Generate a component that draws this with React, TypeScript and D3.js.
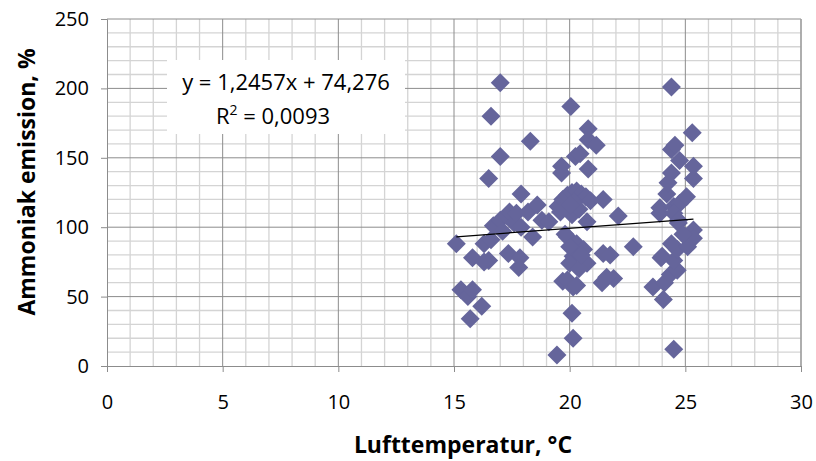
import React, { useRef, useEffect } from 'react';
import * as d3 from 'd3';

// temperature (°C) and ammonia emission (%)
const tempValues = [
  15.1, 15.3, 15.6, 15.8, 16.2, 15.7, 15.8, 16.5, 16.3, 16.3, 16.6, 16.7, 16.5, 16.6, 17.0, 17.0,
  17.0, 17.3, 17.4, 17.35, 17.85, 17.8, 17.6, 17.9, 18.3, 18.4, 18.2, 18.6, 18.8, 17.7, 17.9, 17.1,
  19.45, 20.15, 20.1, 19.7, 19.9, 20.15, 20.3, 21.4, 21.9, 21.6,
  19.9, 20.3, 20.6, 20.15, 20.75, 20.0, 20.4, 20.5, 21.45, 21.75, 20.0, 19.8,
  19.1, 20.1, 20.75, 22.1, 22.75, 21.45,
  19.5, 19.7, 19.9, 20.1, 20.3, 20.5, 20.7, 20.9, 20.2, 19.6, 20.4, 20.0,
  19.65, 19.65, 20.25, 20.45, 20.8, 20.8, 20.8, 21.15, 20.05,
  23.6, 24.1, 24.05, 24.35, 24.65, 24.5, 24.0, 24.65, 24.4, 23.9, 24.5, 24.75, 23.9, 24.5,
  24.7, 25.35, 25.35, 24.2, 24.25, 24.4, 25.05, 25.35, 25.35, 24.75, 24.4, 24.55, 25.3, 24.4,
  24.5, 24.7, 23.95, 25.1, 24.9
];
const emissionValues = [
  88, 55, 50, 55, 43, 34, 78, 76, 75, 88, 91, 101, 135, 180, 204, 151,
  105, 108, 111, 81, 78, 71, 103, 124, 162, 93, 111, 116, 105, 110, 100, 97,
  8, 20, 38, 61, 62, 57, 58, 60, 63, 64,
  93, 88, 84, 79, 74, 74, 70, 80, 81, 80, 86, 95,
  104, 109, 104, 108, 86, 120,
  115, 120, 123, 125, 126, 124, 122, 119, 118, 111, 113, 116,
  144, 139, 151, 153, 142, 163, 171, 159, 187,
  57, 60, 48, 66, 69, 76, 79, 84, 88, 114, 115, 117, 110, 110,
  103, 98, 92, 124, 132, 139, 122, 135, 144, 148, 156, 159, 168, 201,
  12, 105, 78, 86, 95
];
const xTicks = [0, 5, 10, 15, 20, 25, 30];
const yTicks = [0, 50, 100, 150, 200, 250];
const fitSlope = 1.2457;
const fitIntercept = 74.276;
const equationLines = ['y = 1,2457x + 74,276', 'R', ' = 0,0093'];

const FONT = '"Open Sans", "DejaVu Sans", sans-serif';

const App = () => {
  const svgRef = useRef<SVGSVGElement>(null);

  useEffect(() => {
    const svg = d3.select(svgRef.current);
    svg.selectAll('*').remove();

    const width = 816;
    const height = 461;
    const margin = { top: 19, right: 15, bottom: 95, left: 107 };

    svg.attr('width', width).attr('height', height);

    const x = d3.scaleLinear().domain([0, 30]).range([margin.left, width - margin.right]);
    const y = d3.scaleLinear().domain([0, 250]).range([height - margin.bottom, margin.top]);

    const grid = svg.append('g');
    // minor grid
    grid.selectAll('line.mx')
      .data(d3.range(1, 30).filter(v => v % 5 !== 0))
      .join('line')
      .attr('x1', d => x(d)).attr('x2', d => x(d))
      .attr('y1', y(0)).attr('y2', y(250))
      .attr('stroke', '#d4d4d4').attr('stroke-width', 1.3);
    grid.selectAll('line.my')
      .data(d3.range(10, 250, 10).filter(v => v % 50 !== 0))
      .join('line')
      .attr('y1', d => y(d)).attr('y2', d => y(d))
      .attr('x1', x(0)).attr('x2', x(30))
      .attr('stroke', '#d4d4d4').attr('stroke-width', 1.3);
    // major grid
    grid.append('g').selectAll('line')
      .data(xTicks.slice(1))
      .join('line')
      .attr('x1', d => x(d)).attr('x2', d => x(d))
      .attr('y1', y(0)).attr('y2', y(250))
      .attr('stroke', '#8c8c8c').attr('stroke-width', 1);
    grid.append('g').selectAll('line')
      .data(yTicks.slice(1))
      .join('line')
      .attr('y1', d => y(d)).attr('y2', d => y(d))
      .attr('x1', x(0)).attr('x2', x(30))
      .attr('stroke', '#8c8c8c').attr('stroke-width', 1);
    grid.append('line')
      .attr('x1', x(30)).attr('x2', x(30)).attr('y1', y(0)).attr('y2', y(250))
      .attr('stroke', '#a6a6a6').attr('stroke-width', 1.5);

    // axes
    const xAxis = svg.append('g')
      .attr('transform', `translate(0,${y(0)})`)
      .call(d3.axisBottom(x).tickValues(xTicks).tickSize(6).tickPadding(23));
    const yAxis = svg.append('g')
      .attr('transform', `translate(${x(0)},0)`)
      .call(d3.axisLeft(y).tickValues(yTicks).tickSize(6).tickPadding(12));
    [xAxis, yAxis].forEach(a => {
      a.select('.domain').attr('stroke', '#8c8c8c');
      a.selectAll('.tick line').attr('stroke', '#8c8c8c');
      a.selectAll('.tick text')
        .attr('font-family', FONT).attr('font-size', 20).attr('fill', '#000');
    });

    // equation box
    const box = svg.append('g');
    box.append('rect')
      .attr('x', 167).attr('y', 60).attr('width', 238).attr('height', 74)
      .attr('fill', '#fff');
    box.append('text')
      .attr('x', 286).attr('y', 90)
      .attr('text-anchor', 'middle')
      .attr('font-family', FONT).attr('font-size', 22)
      .text(equationLines[0]);
    const r2 = box.append('text')
      .attr('x', 273).attr('y', 124)
      .attr('text-anchor', 'middle')
      .attr('font-family', FONT).attr('font-size', 22);
    r2.append('tspan').text(equationLines[1]);
    r2.append('tspan').attr('dy', -9).attr('font-size', 14).text('2');
    r2.append('tspan').attr('dy', 9).text(equationLines[2]);

    // points
    const data = tempValues.map((t, i) => ({ t, e: emissionValues[i] }));
    const diamond = 'M0,-9.5L9.5,0L0,9.5L-9.5,0Z';
    svg.append('g')
      .selectAll('path')
      .data(data)
      .join('path')
      .attr('d', diamond)
      .attr('transform', d => `translate(${x(d.t)},${y(d.e)})`)
      .attr('fill', '#65659b');

    // trend line
    const [minT, maxT] = d3.extent(tempValues) as [number, number];
    svg.append('line')
      .attr('x1', x(minT)).attr('y1', y(fitSlope * minT + fitIntercept))
      .attr('x2', x(maxT)).attr('y2', y(fitSlope * maxT + fitIntercept))
      .attr('stroke', '#000').attr('stroke-width', 1.2);

    // axis titles
    svg.append('text')
      .attr('x', 463).attr('y', 453)
      .attr('text-anchor', 'middle')
      .attr('font-family', FONT).attr('font-size', 23).attr('font-weight', 'bold')
      .text('Lufttemperatur, °C');
    svg.append('text')
      .attr('transform', 'translate(35,182) rotate(-90)')
      .attr('text-anchor', 'middle')
      .attr('font-family', FONT).attr('font-size', 23).attr('font-weight', 'bold')
      .text('Ammoniak emission, %');
  }, []);

  return (
    <div>
      <style>{'body{margin:0}'}</style>
      <svg ref={svgRef}></svg>
    </div>
  );
};

export default App;
